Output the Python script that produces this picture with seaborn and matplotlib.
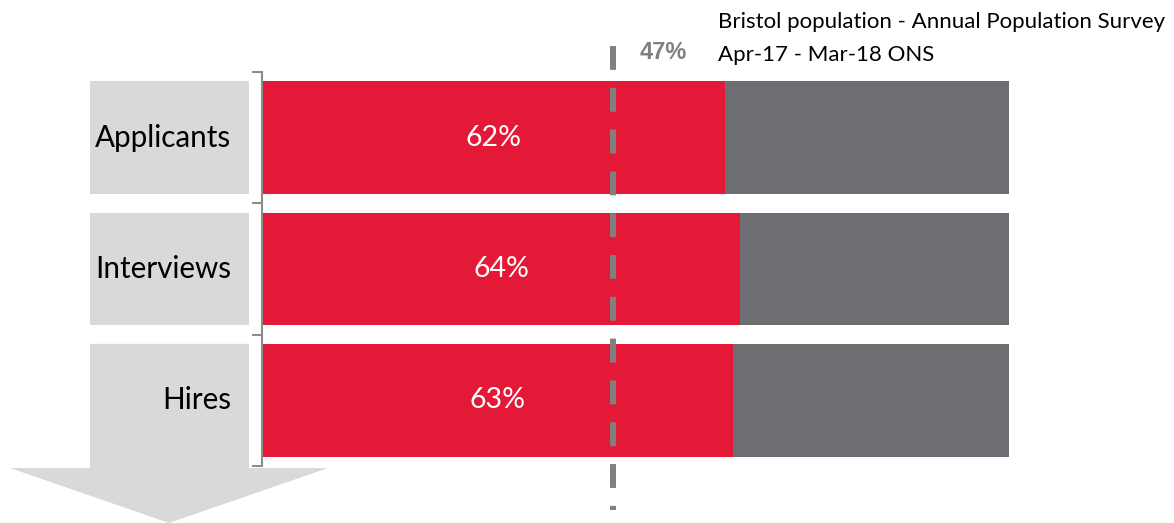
import matplotlib
matplotlib.use("Agg")
import matplotlib.pyplot as plt
from matplotlib.patches import Rectangle, Polygon
import seaborn as sns
import pandas as pd

# ---- data ----
stages = ["Applicants", "Interviews", "Hires"]
share = [62, 64, 63]          # % share (red segment)
total = [100, 100, 100]       # full bar
benchmark = 47                # Bristol population benchmark
bench_label = "47%"
note_lines = ["Bristol population - Annual Population Survey", "Apr-17 - Mar-18 ONS"]

RED = "#E31937"
DARK = "#6D6E71"
BOX = "#D9D9D9"
LINE = "#808080"
FONT = "Lato"

sns.set_theme(style="white")
plt.rcParams["font.family"] = [FONT, "DejaVu Sans"]

W, H = 1174, 523
fig = plt.figure(figsize=(W / 100, H / 100), dpi=100)

# background decoration axes in pixel coordinates
bg = fig.add_axes([0, 0, 1, 1], zorder=0)
bg.set_xlim(0, W)
bg.set_ylim(H, 0)
bg.axis("off")

# main bar axes: x 262..1009 px, y 72..466 px
x0, x1 = 262, 1009
y0, y1 = 72, 466
ax = fig.add_axes([x0 / W, 1 - y1 / H, (x1 - x0) / W, (y1 - y0) / H], zorder=1)
ax.patch.set_alpha(0)

df = pd.DataFrame({"stage": stages, "share": share, "total": total})
sns.barplot(data=df, x="total", y="stage", orient="h", color=DARK, saturation=1,
            width=0.86, linewidth=0, ax=ax)
sns.barplot(data=df, x="share", y="stage", orient="h", color=RED, saturation=1,
            width=0.86, linewidth=0, ax=ax)
ax.set_xlim(0, 100)
ax.set_ylim(len(stages) - 0.5, -0.5)
ax.set_xlabel("")
ax.set_ylabel("")
ax.set_xticks([])

# bracket = left spine with ticks at category boundaries
for s in ["top", "right", "bottom"]:
    ax.spines[s].set_visible(False)
ax.spines["left"].set_color("#8C8C8C")
ax.spines["left"].set_linewidth(1.5)
ax.set_yticks([i - 0.5 for i in range(len(stages) + 1)])
ax.set_yticklabels([])
ax.tick_params(axis="y", which="major", direction="out", length=7.2, width=1.5,
               color="#8C8C8C", left=True)

# value labels centered in red segments
for i, v in enumerate(share):
    ax.text(v / 2, i, f"{v}%", ha="center", va="center", color="white", fontsize=20.5)

# gray label boxes + down arrow
inv = fig.transFigure.inverted()
for i, name in enumerate(stages):
    top_px = H - inv.transform(ax.transData.transform((0, i - 0.43)))[1] * H
    bot_px = H - inv.transform(ax.transData.transform((0, i + 0.43)))[1] * H
    if i < len(stages) - 1:
        bg.add_patch(Rectangle((90, top_px), 159, bot_px - top_px, color=BOX, lw=0))
    else:
        bg.add_patch(Polygon([(90, top_px), (249, top_px), (249, 468), (328, 468),
                              (169, 523), (10, 468), (90, 468)], closed=True,
                             color=BOX, lw=0))
    ax.text(-31 / (x1 - x0), i, name, transform=ax.get_yaxis_transform(),
            ha="right", va="center", fontsize=21.3, color="black")

# benchmark dashed line
ax.plot([benchmark, benchmark], [-0.697, 2.836], color=LINE, lw=4.3,
        dashes=(4, 3), dash_capstyle="butt", clip_on=False, zorder=5)
ax.text(benchmark + 3.6, -0.65, bench_label, ha="left", va="center", fontsize=17,
        fontweight="bold", color=LINE, clip_on=False,
        family=["Liberation Sans", "DejaVu Sans"])

# note text
bg.text(718, 22, note_lines[0], ha="left", va="center", fontsize=16, color="black")
bg.text(718, 55, note_lines[1], ha="left", va="center", fontsize=16, color="black")

fig.savefig("out.png", dpi=100)
